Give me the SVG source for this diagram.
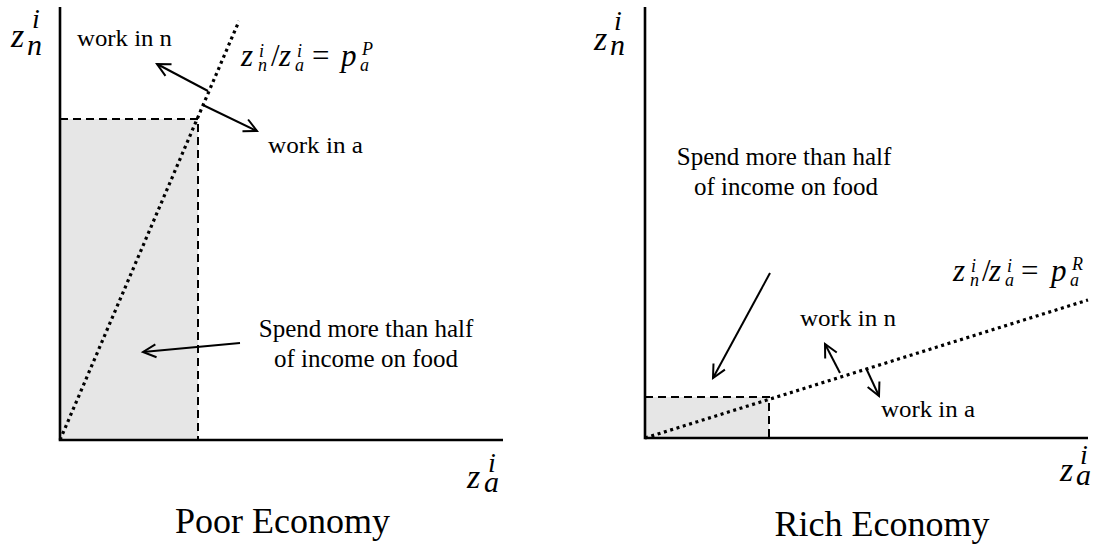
<svg xmlns="http://www.w3.org/2000/svg" width="1093" height="544" viewBox="0 0 1093 544">
<defs>
<style>
text{font-family:"Liberation Serif","Times New Roman","DejaVu Serif",serif;fill:#000}
.it{font-style:italic}
.axis{stroke:#000;stroke-width:2.6;fill:none}
.dash{stroke:#000;stroke-width:2;stroke-dasharray:8,5;fill:none}
.dot{stroke:#000;stroke-width:3.2;stroke-dasharray:3,3.6;fill:none}
.arr{stroke:#000;stroke-width:2;fill:none;marker-end:url(#ah)}
.shade{fill:#e6e6e6;stroke:none}
</style>
<marker id="ah" markerWidth="18" markerHeight="18" refX="15" refY="9" orient="auto" markerUnits="userSpaceOnUse">
<path d="M2,2.5 L15,9 L2,15.5" fill="none" stroke="#000" stroke-width="2"/>
</marker>
</defs>
<rect width="1093" height="544" fill="#fff"/>

<g id="poor">
<rect class="shade" x="60" y="119" width="138" height="321"/>
<path class="dash" d="M60,119 H198 V440"/>
<path class="dot" d="M60,440 L239,21"/>
<path class="axis" d="M60,7 V440 H503"/>
<text class="it" font-size="34"><tspan x="11" y="47">z</tspan><tspan x="32" y="28" font-size="28">i</tspan><tspan x="27" y="55" font-size="30">n</tspan></text>
<text class="it" font-size="34"><tspan x="467" y="488">z</tspan><tspan x="488" y="472" font-size="28">i</tspan><tspan x="484" y="492" font-size="30">a</tspan></text>
<text id="poor-formula" class="it" font-size="31"><tspan x="241" y="66">z</tspan><tspan x="259" y="57" font-size="18">i</tspan><tspan x="258" y="71" font-size="18">n</tspan><tspan x="271" y="66" font-style="normal">/</tspan><tspan x="279" y="66">z</tspan><tspan x="297" y="57" font-size="18">i</tspan><tspan x="295" y="71" font-size="18">a</tspan><tspan x="312" y="66" font-style="normal">=</tspan><tspan x="341" y="66">p</tspan><tspan x="362" y="55" font-size="18">P</tspan><tspan x="360" y="71" font-size="18">a</tspan></text>
<text x="77" y="46" font-size="24" textLength="95" lengthAdjust="spacingAndGlyphs">work in n</text>
<text x="268" y="153" font-size="24" textLength="95" lengthAdjust="spacingAndGlyphs">work in a</text>
<text x="366" y="337" font-size="25" text-anchor="middle">Spend more than half</text>
<text x="366" y="367" font-size="25" text-anchor="middle">of income on food</text>
<text x="282.5" y="533" font-size="36" text-anchor="middle">Poor Economy</text>
</g>

<g id="rich">
<rect class="shade" x="645" y="397" width="124" height="41"/>
<path class="dash" d="M645,397 H769 V438"/>
<path class="dot" d="M645,438 L1088,300"/>
<path class="axis" d="M645,7 V438 H1088"/>
<text class="it" font-size="34"><tspan x="594" y="50">z</tspan><tspan x="614" y="30" font-size="28">i</tspan><tspan x="610" y="55" font-size="30">n</tspan></text>
<text class="it" font-size="34"><tspan x="1060" y="481">z</tspan><tspan x="1080" y="464" font-size="28">i</tspan><tspan x="1076" y="485" font-size="30">a</tspan></text>
<text id="rich-formula" class="it" font-size="31"><tspan x="953" y="281">z</tspan><tspan x="971" y="272" font-size="18">i</tspan><tspan x="970" y="286" font-size="18">n</tspan><tspan x="982" y="281" font-style="normal">/</tspan><tspan x="989" y="281">z</tspan><tspan x="1007" y="272" font-size="18">i</tspan><tspan x="1005" y="286" font-size="18">a</tspan><tspan x="1021" y="281" font-style="normal">=</tspan><tspan x="1051" y="281">p</tspan><tspan x="1072" y="270" font-size="18">R</tspan><tspan x="1070" y="286" font-size="18">a</tspan></text>
<text x="800" y="326" font-size="24" textLength="96" lengthAdjust="spacingAndGlyphs">work in n</text>
<text x="881" y="417" font-size="24" textLength="94" lengthAdjust="spacingAndGlyphs">work in a</text>
<text x="784" y="165" font-size="25" text-anchor="middle">Spend more than half</text>
<text x="786" y="195" font-size="25" text-anchor="middle">of income on food</text>
<text x="882" y="536" font-size="36" text-anchor="middle">Rich Economy</text>
</g>

<g id="connectors">
<path class="arr" d="M208,91 L157,64"/>
<path class="arr" d="M203,105 L257,131"/>
<path class="arr" d="M240,343 L143,352"/>
<path class="arr" d="M770,273 L713,378"/>
<path class="arr" d="M840,373 L825,344"/>
<path class="arr" d="M866,368 L879,396"/>
</g>
</svg>
